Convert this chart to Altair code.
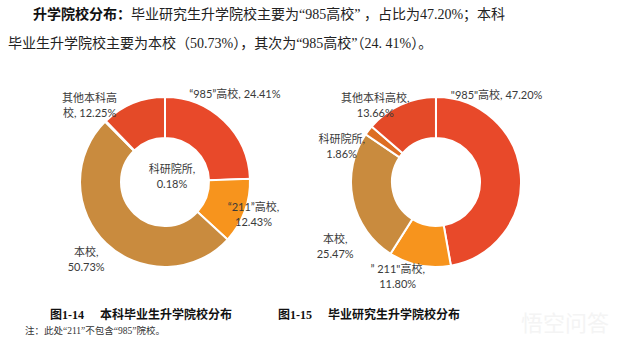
import altair as alt
import pandas as pd

# ---------------- data ----------------
categories = ["“985”高校", "“211”高校", "本校", "科研院所", "其他本科高校"]
ug_values = [24.41, 12.43, 50.73, 0.18, 12.25]
pg_values = [47.20, 11.80, 25.47, 1.86, 13.66]
ug_labels = ["“985”高校, 24.41%", "“211”高校,\n12.43%", "本校,\n50.73%",
             "科研院所,\n0.18%", "其他本科高\n校, 12.25%"]
pg_labels = ["\"985\"高校, 47.20%", "” 211\"高校,\n11.80%", "本校,\n25.47%",
             "科研院所,\n1.86%", "其他本科高校,\n13.66%"]
colors = ["#E8492A", "#F7941D", "#C98B3E", "#DD6E22", "#E44A28"]

para_bold = "升学院校分布："
para_line1 = "毕业研究生升学院校主要为“985高校” ，占比为47.20%；本科"
para_line2 = "毕业生升学院校主要为本校（50.73%），其次为“985高校”（24. 41%）。"
cap_ug_num, cap_ug = "图1-14", "本科毕业生升学院校分布"
cap_pg_num, cap_pg = "图1-15", "毕业研究生升学院校分布"
note = "注：此处“211”不包含“985”院校。"
watermark = "悟空问答"

SERIF = "Liberation Serif, Noto Sans CJK SC"
SANS = "Lato, Noto Sans CJK SC"


def donut_df(values, labels):
    return pd.DataFrame({"cat": categories, "value": values,
                         "label": labels, "idx": list(range(len(categories)))})


ug_df = donut_df(ug_values, ug_labels)
pg_df = donut_df(pg_values, pg_labels)

theta_scale = alt.Scale(domain=[0, 100])
color_scale = alt.Scale(domain=categories, range=colors)


def arcs(df, cx, cy):
    return alt.Chart(df).mark_arc(
        outerRadius=85, innerRadius=44, stroke="white", strokeWidth=2
    ).encode(
        theta=alt.Theta("value:Q", stack=True, scale=theta_scale),
        color=alt.Color("cat:N", scale=color_scale, legend=None),
        order=alt.Order("idx:Q"),
        x=alt.value(cx), y=alt.value(cy),
    )


def label(df, cx, cy, cat, r, dx, dy):
    return alt.Chart(df).transform_window(
        cum="sum(value)", sort=[alt.SortField("idx")], frame=[None, 0]
    ).transform_calculate(
        mid="datum.cum - datum.value / 2"
    ).transform_filter(
        alt.datum.cat == cat
    ).mark_text(
        radius=r, dx=dx, dy=dy, align="center", baseline="middle",
        lineBreak="\n", font=SANS, fontSize=11, lineHeight=15, color="#3a3a3a"
    ).encode(
        theta=alt.Theta("mid:Q", scale=theta_scale),
        text="label:N",
        x=alt.value(cx), y=alt.value(cy),
    )


def free_text(txt, x, y, size, bold=False, color="#222222", font=SERIF, align="left"):
    return alt.Chart(pd.DataFrame({"t": [txt]})).mark_text(
        align=align, baseline="middle", font=font, fontSize=size,
        fontWeight="bold" if bold else "normal", color=color
    ).encode(text="t:N", x=alt.value(x), y=alt.value(y))


UCX, UCY = 165, 182
PCX, PCY = 436, 182

ug_label_pos = [(105, -3, -11), (105, -10, -10), (105, -6, -5), (0, 7, -12), (105, -36, 14)]
pg_label_pos = [(105, -44, -77), (105, -18, -15), (105, 2, 37), (105, -11, 22), (105, -17, 12)]

layers = [arcs(ug_df, UCX, UCY), arcs(pg_df, PCX, PCY)]
for cat, (r, dx, dy) in zip(categories, ug_label_pos):
    layers.append(label(ug_df, UCX, UCY, cat, r, dx, dy))
for cat, (r, dx, dy) in zip(categories, pg_label_pos):
    layers.append(label(pg_df, PCX, PCY, cat, r, dx, dy))

layers += [
    free_text(watermark, 565, 324, 22, color="#f4f4f4", font=SANS, align="center"),
    free_text(para_bold, 33, 15, 14, bold=True, color="#111111"),
    free_text(para_line1, 131, 15, 14),
    free_text(para_line2, 8, 44, 14),
    free_text(cap_ug_num, 50, 315, 12, bold=True, color="#111111"),
    free_text(cap_ug, 100, 315, 12, bold=True, color="#111111"),
    free_text(cap_pg_num, 278, 315, 12, bold=True, color="#111111"),
    free_text(cap_pg, 328, 315, 12, bold=True, color="#111111"),
    free_text(note, 25, 331, 9.5, color="#333333"),
]

chart = alt.layer(*layers).properties(
    width=618, height=349, padding=0,
    autosize=alt.AutoSizeParams(type="none"),
    background="white",
).configure_view(stroke=None)

chart.save("out.html", embed_options={"renderer": "svg", "actions": False})
